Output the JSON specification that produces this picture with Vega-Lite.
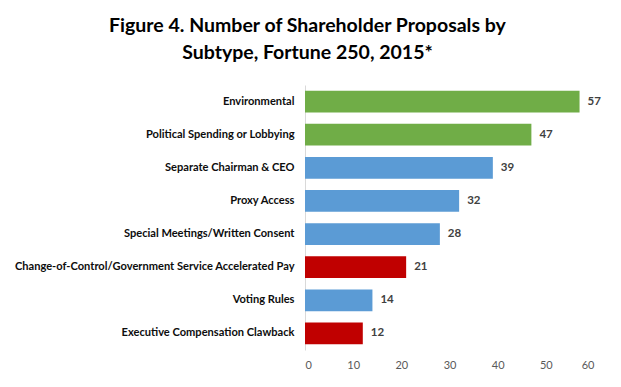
{
  "$schema": "https://vega.github.io/schema/vega-lite/v6.json",
  "width": 289,
  "height": 265,
  "autosize": {"type": "none"},
  "padding": {"left": 305, "top": 85, "right": 27, "bottom": 37},
  "background": "white",
  "config": {"view": {"stroke": null}, "font": "Lato"},
  "title": {
    "text": ["Figure 4. Number of Shareholder Proposals  by", "Subtype,  Fortune 250, 2015*"],
    "font": "Lato",
    "fontSize": 19.5,
    "fontWeight": "bold",
    "color": "#000000",
    "anchor": "middle",
    "frame": "bounds",
    "lineHeight": 27,
    "offset": 22
  },
  "data": {
    "values": [
      {"subtype": "Environmental", "proposals": 57, "group": "green"},
      {"subtype": "Political Spending or Lobbying", "proposals": 47, "group": "green"},
      {"subtype": "Separate Chairman & CEO", "proposals": 39, "group": "blue"},
      {"subtype": "Proxy Access", "proposals": 32, "group": "blue"},
      {"subtype": "Special Meetings/Written Consent", "proposals": 28, "group": "blue"},
      {"subtype": "Change-of-Control/Government Service Accelerated Pay", "proposals": 21, "group": "red"},
      {"subtype": "Voting Rules", "proposals": 14, "group": "blue"},
      {"subtype": "Executive Compensation Clawback", "proposals": 12, "group": "red"}
    ]
  },
  "encoding": {
    "y": {
      "field": "subtype",
      "type": "nominal",
      "sort": null,
      "title": null,
      "scale": {"paddingInner": 0.34, "paddingOuter": 0.17},
      "axis": {
        "ticks": false,
        "domainColor": "#d9d9d9",
        "labelFont": "Lato",
        "labelFontSize": 11.1,
        "labelFontWeight": "bold",
        "labelColor": "#0d0d0d",
        "labelPadding": 11,
        "labelLimit": 400
      }
    },
    "x": {
      "field": "proposals",
      "type": "quantitative",
      "title": null,
      "scale": {"domain": [0, 60], "nice": false},
      "axis": {
        "values": [0, 10, 20, 30, 40, 50, 60],
        "grid": false,
        "domain": false,
        "ticks": false,
        "labelFont": "Lato",
        "labelFontSize": 11,
        "labelColor": "#595959",
        "labelPadding": 9
      }
    }
  },
  "layer": [
    {
      "mark": {"type": "bar"},
      "encoding": {
        "color": {
          "field": "group",
          "type": "nominal",
          "scale": {"domain": ["green", "blue", "red"], "range": ["#70ad47", "#5b9bd5", "#c00000"]},
          "legend": null
        }
      }
    },
    {
      "mark": {"type": "text", "align": "left", "baseline": "middle", "dx": 8, "font": "Lato", "fontSize": 11.5, "fontWeight": "bold", "color": "#404040"},
      "encoding": {"text": {"field": "proposals", "type": "quantitative"}}
    }
  ]
}
